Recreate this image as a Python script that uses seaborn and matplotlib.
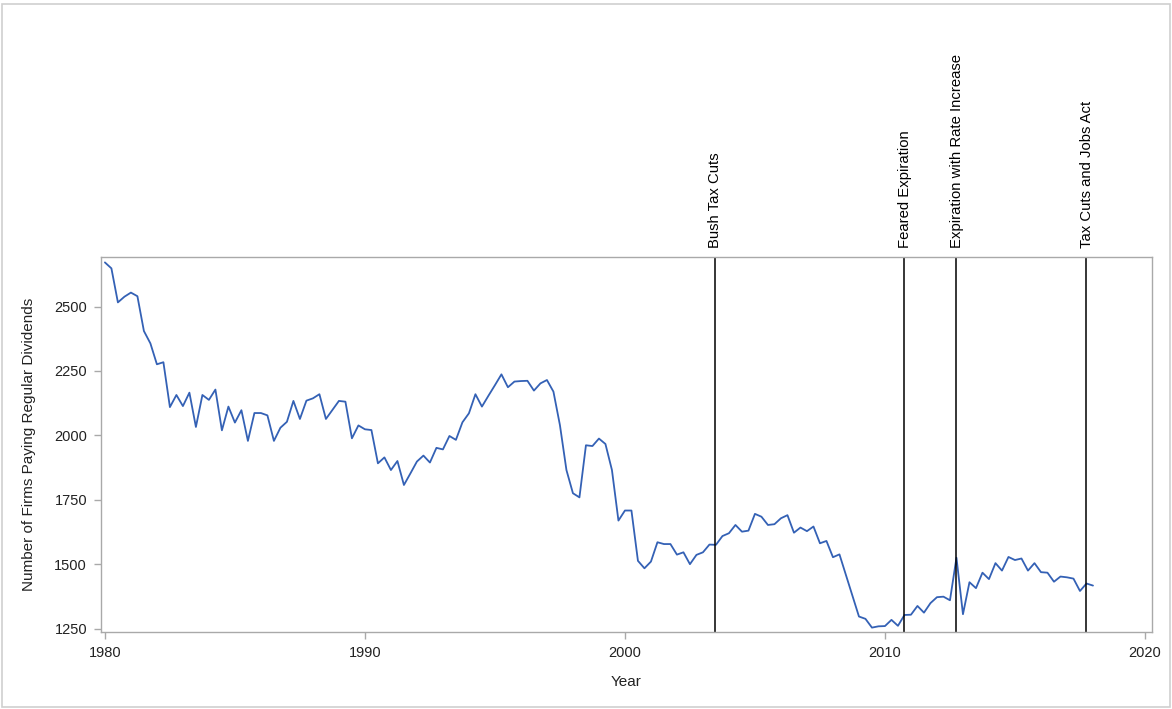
import numpy as np
import pandas as pd
import matplotlib
matplotlib.use("Agg")
import matplotlib.pyplot as plt
from matplotlib.patches import Rectangle
import seaborn as sns

# Quarterly count of firms paying regular dividends, 1980Q1 - 2018Q1
quarters = pd.period_range("1980Q1", "2018Q1", freq="Q")
firms = [
    2671, 2648, 2516, 2538, 2554, 2540, 2405, 2357, 2276, 2284,
    2110, 2157, 2114, 2166, 2033, 2157, 2138, 2178, 2020, 2112,
    2050, 2098, 1979, 2087, 2087, 2078, 1979, 2030, 2053, 2134,
    2064, 2135, 2144, 2160, 2064, 2099, 2134, 2131, 1989, 2039,
    2024, 2021, 1892, 1915, 1866, 1901, 1808, 1853, 1899, 1922,
    1895, 1952, 1946, 1998, 1983, 2051, 2086, 2160, 2112, 2154,
    2195, 2237, 2187, 2209, 2211, 2212, 2174, 2202, 2215, 2170,
    2040, 1866, 1776, 1760, 1962, 1959, 1988, 1967, 1866, 1670,
    1709, 1709, 1514, 1485, 1511, 1586, 1579, 1579, 1538, 1547,
    1501, 1537, 1547, 1577, 1576, 1610, 1621, 1653, 1627, 1631,
    1696, 1685, 1653, 1656, 1679, 1691, 1623, 1643, 1629, 1647,
    1582, 1591, 1528, 1539, 1459, 1378, 1298, 1289, 1255, 1260,
    1261, 1285, 1262, 1304, 1305, 1339, 1313, 1350, 1373, 1375,
    1361, 1526, 1307, 1431, 1408, 1468, 1443, 1505, 1476, 1529,
    1517, 1523, 1476, 1505, 1470, 1468, 1433, 1453, 1450, 1445,
    1397, 1426, 1418,
]

# Tax policy events (fractional year)
event_labels = ["Bush Tax Cuts", "Feared Expiration",
                "Expiration with Rate Increase", "Tax Cuts and Jobs Act"]
event_years = [2003.45, 2010.75, 2012.75, 2017.75]

x_ticks = [1980, 1990, 2000, 2010, 2020]
y_ticks = [1250, 1500, 1750, 2000, 2250, 2500]

df = pd.DataFrame({
    "year": quarters.year + (quarters.quarter - 1) / 4.0,
    "firms": firms,
})

sns.set_theme(style="white")
plt.rcParams["font.family"] = ["Liberation Sans", "DejaVu Sans"]

W, H = 1172, 709
fig = plt.figure(figsize=(W / 100, H / 100), dpi=100)
fig.patch.set_facecolor("white")

# outer frame of the graph area
fig.patches.append(Rectangle((2 / W, 2 / H), (W - 4) / W, (H - 6) / H,
                             transform=fig.transFigure, fill=False,
                             edgecolor="#cfcfcf", linewidth=1.2))

ax = fig.add_axes([101 / W, 1 - 632 / H, (1152 - 101) / W, (632 - 257) / H])

sns.lineplot(data=df, x="year", y="firms", ax=ax, color="#3461b5",
             linewidth=1.3)

for lab, yr in zip(event_labels, event_years):
    ax.axvline(yr, color="black", linewidth=1.1)
    ax.annotate(lab, xy=(yr, 1.0), xycoords=("data", "axes fraction"),
                xytext=(0.5, 6.5), textcoords="offset points",
                rotation=90, ha="center", va="bottom",
                fontsize=10.7, color="black")

ax.set_xlim(1979.85, 2020.27)
ax.set_ylim(1238, 2692)
ax.set_xticks(x_ticks)
ax.set_yticks(y_ticks)
ax.set_xticklabels([str(t) for t in x_ticks])
ax.set_yticklabels([str(t) for t in y_ticks])

for s in ax.spines.values():
    s.set_color("#a9a9a9")
    s.set_linewidth(1.0)

ax.tick_params(axis="both", direction="out", length=5, width=1.0,
               color="#a9a9a9", labelsize=10.5, labelcolor="#222222",
               bottom=True, left=True, pad=5)

ax.set_xlabel("Year", fontsize=11, color="#222222", labelpad=11)
ax.set_ylabel("Number of Firms Paying Regular Dividends", fontsize=11,
              color="#222222", labelpad=13)

fig.savefig("out.png", dpi=100, facecolor="white")
